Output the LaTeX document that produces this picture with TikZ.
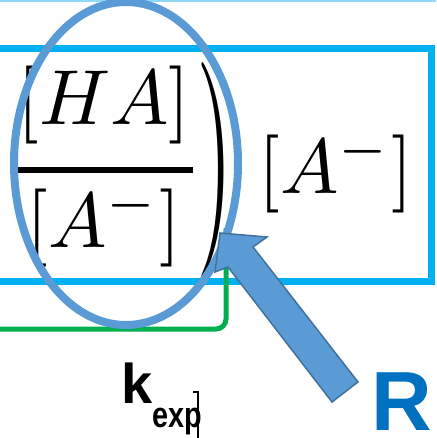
\documentclass[tikz,border=0pt]{standalone}
\usepackage{fontspec}
\setmainfont{Liberation Sans}
\definecolor{boxcyan}{HTML}{00B0F0}
\definecolor{topcyan}{HTML}{8DD9F7}
\definecolor{ringblue}{HTML}{5B9BD5}
\definecolor{arrowedge}{HTML}{41719C}
\definecolor{linegreen}{HTML}{00B050}
\definecolor{letterblue}{HTML}{0070C0}
\newcommand{\bigmath}[1]{\scalebox{7.8}{$#1$}}
\tikzset{
  mathtext/.style={inner sep=0pt},
  sanstext/.style={inner sep=0pt, anchor=base west}
}
\begin{document}
\begin{tikzpicture}[x=1pt,y=-1pt]
        \useasboundingbox (0,0) rectangle (436,438);
        \clip (0,0) rectangle (436,438);

        % Ligne du haut et cadre
        \draw[topcyan, line width=2pt] (0,1) -- (436,1);
        \draw[boxcyan, line width=7pt] (-20,49) -- (431,49) -- (431,281) -- (-20,281);

        % Trait vert
        \draw[linegreen, line width=5pt, rounded corners=10pt] (-10,329) -- (226,329) -- (226,228);

        % Rapport des concentrations
        \node[mathtext] (num) at (104,105) {\bigmath{[HA]}};
        \draw[line width=6pt] (17,170) -- (193,170);
        \node[mathtext] (den) at (104,226.5) {\bigmath{[A^-]}};
        \node[mathtext] (paren) at (214.5,170) {\scalebox{9.5}[21.6]{$)$}};
        \node[mathtext] (base) at (336,172.5) {\bigmath{[A^-]}};

        % Ellipse autour du rapport
        \draw[ringblue, line width=8pt] (126,163.5) ellipse (112 and 161.5);

        % Fleche bleue
        \filldraw[fill=ringblue, draw=arrowedge, line width=1.5pt, line join=miter]
          (220,233) -- (267,237) -- (253,247) -- (358,382) -- (332,402) -- (228,267) -- (215,272) -- cycle;

        % Textes
        \node[sanstext] (kexp) at (121,403) {\bfseries\fontsize{56}{56}\selectfont k\raisebox{-24pt}{\scalebox{0.8}[1]{\fontsize{36}{36}\selectfont exp}}};
        \draw[line width=1.2pt] (193,392) -- (198,392) -- (198,440);
        \node[sanstext, text=letterblue] (rlabel) at (371,430) {\bfseries\fontsize{84}{84}\selectfont R};
      \end{tikzpicture}
\end{document}
